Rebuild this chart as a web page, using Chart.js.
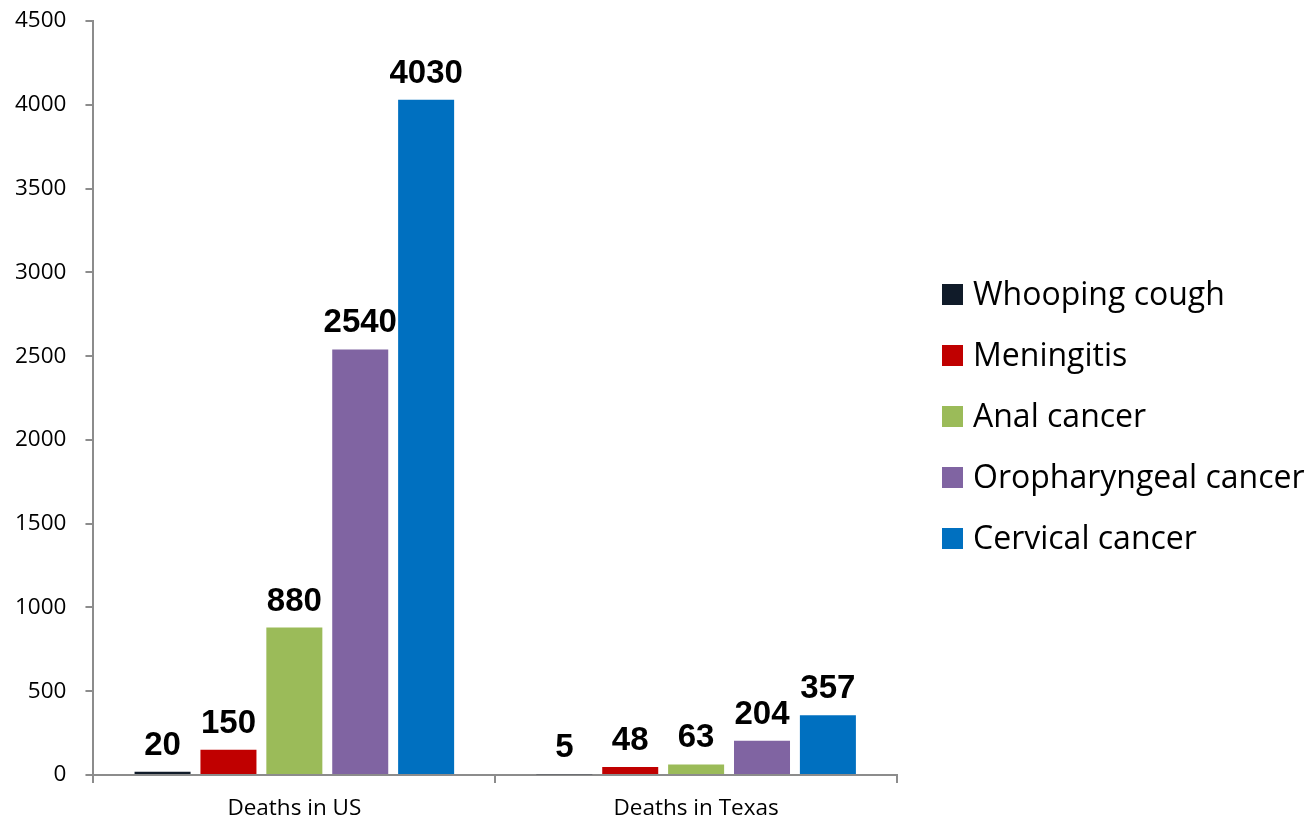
<!DOCTYPE html>
<html>
<head>
<meta charset="utf-8">
<script src="https://cdn.jsdelivr.net/npm/chart.js@4.4.1/dist/chart.umd.min.js"></script>
<style>
  body { margin: 0; background: #fff; }
  #wrap { width: 1314px; height: 821px; }
</style>
</head>
<body>
<div id="wrap"><canvas id="myChart" width="1314" height="821"></canvas></div>
<script>
// categorie e valori
const groups = ['Deaths in US', 'Deaths in Texas']
const diseases = ['Whooping cough', 'Meningitis', 'Anal cancer', 'Oropharyngeal cancer', 'Cervical cancer']
const whoopingCough = [20, 5]
const meningitis = [150, 48]
const analCancer = [880, 63]
const oropharyngealCancer = [2540, 204]
const cervicalCancer = [4030, 357]
const yTicks = [0, 500, 1000, 1500, 2000, 2500, 3000, 3500, 4000, 4500]

const colors = ['#101b29', '#c00000', '#9bbb59', '#8064a2', '#0070c0']
const series = [whoopingCough, meningitis, analCancer, oropharyngealCancer, cervicalCancer]

const axisGrey = '#8c8c8c'

// etichette sopra le barre
const valueLabelsPlugin = {
  id: 'valueLabels',
  afterDatasetsDraw: function (chart) {
    const ctx = chart.ctx
    ctx.save()
    ctx.textAlign = 'center'
    ctx.textBaseline = 'alphabetic'
    ctx.font = 'bold 33px "Liberation Sans", Arial'
    ctx.fillStyle = '#000'
    chart.data.datasets.forEach(function (ds, i) {
      const meta = chart.getDatasetMeta(i)
      meta.data.forEach(function (bar, j) {
        ctx.fillText(ds.data[j], bar.x, bar.y - 17)
      })
    })
    ctx.restore()
  },
}

// legenda disegnata a mano nello spazio a destra (quella di Chart.js viene tagliata)
const sideLegendPlugin = {
  id: 'sideLegend',
  afterDraw: function (chart) {
    const ctx = chart.ctx
    const x = chart.chartArea.right + 45
    const firstRow = 294
    const rowStep = 61
    ctx.save()
    ctx.font = '32px "Open Sans"'
    ctx.textAlign = 'left'
    ctx.textBaseline = 'alphabetic'
    chart.data.datasets.forEach(function (ds, i) {
      const y = firstRow + i * rowStep
      ctx.fillStyle = ds.backgroundColor
      ctx.fillRect(x, y - 10, 21, 21)
      ctx.fillStyle = '#000'
      ctx.fillText(ds.label, x + 31, y + 11)
    })
    ctx.restore()
  },
}

Chart.register(valueLabelsPlugin, sideLegendPlugin)

function drawChart() {
  let ctx = document.getElementById('myChart').getContext('2d')
  let myBarChart = new Chart(ctx, {
    type: 'bar',
    data: {
      labels: groups,
      datasets: diseases.map(function (name, i) {
        return {
          label: name,
          data: series[i],
          backgroundColor: colors[i],
          borderWidth: 0,
          categoryPercentage: 0.82,
          barPercentage: 0.85,
        }
      }),
    },
    options: {
      responsive: false,
      animation: false,
      events: [],
      layout: {
        autoPadding: false,
        padding: { left: -4, top: 21, right: 417, bottom: -13 },
      },
      scales: {
        x: {
          grid: {
            display: true,
            drawOnChartArea: false,
            drawTicks: true,
            tickLength: 8,
            color: axisGrey,
            lineWidth: 2,
          },
          border: { color: axisGrey, width: 2 },
          ticks: {
            color: '#000',
            padding: 12,
            font: { family: '"Open Sans"', size: 22.5 },
          },
        },
        y: {
          min: 0,
          max: 4500,
          afterBuildTicks: function (axis) {
            axis.ticks = yTicks.map(function (v) { return { value: v } })
          },
          // il padding dei tick non deve spingere giu' il bordo superiore
          afterFit: function (axis) {
            axis.paddingTop = 0
          },
          grid: {
            display: true,
            drawOnChartArea: false,
            drawTicks: true,
            tickLength: 8,
            color: axisGrey,
            lineWidth: 2,
          },
          border: { color: axisGrey, width: 2 },
          ticks: {
            color: '#000',
            padding: 19,
            font: { family: '"Open Sans"', size: 22.5 },
            callback: function (v) { return String(v) },
          },
        },
      },
      plugins: {
        legend: { display: false },
        tooltip: { enabled: false },
      },
    },
  })
}

// aspetta i font prima di misurare i testi
Promise.all([
  document.fonts.load('32px "Open Sans"'),
  document.fonts.load('bold 33px "Liberation Sans"'),
]).then(drawChart, drawChart)
</script>
</body>
</html>
